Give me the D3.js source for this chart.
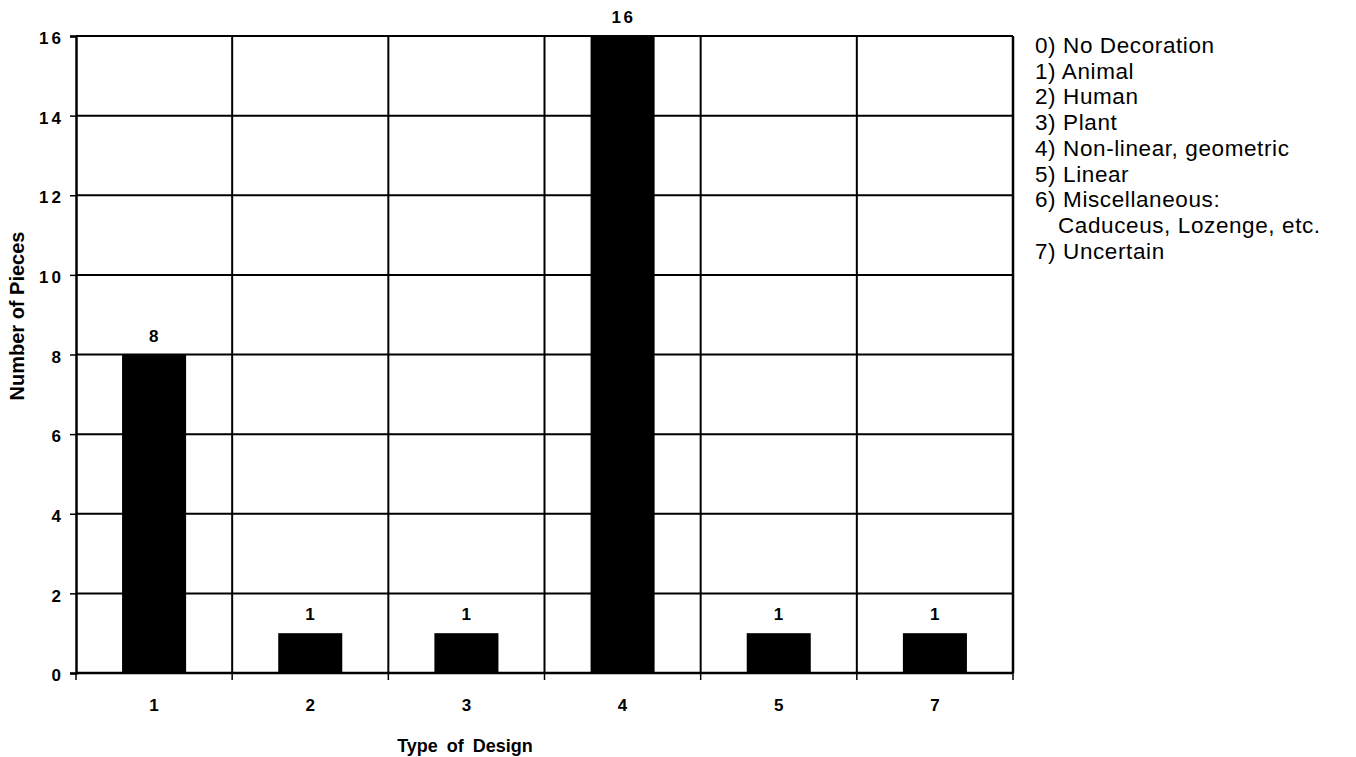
<!DOCTYPE html>
<html>
<head>
<meta charset="utf-8">
<script src="https://cdn.jsdelivr.net/npm/d3@7"></script>
<style>
  body { margin: 0; background: #fff; }
  svg { display: block; font-family: "Liberation Sans", Arial, sans-serif; }
</style>
</head>
<body>
<svg id="chart" width="1356" height="757"></svg>
<script>
// Counts of pieces by type of design
const categories = ["1", "2", "3", "4", "5", "7"];
const pieces = [8, 1, 1, 16, 1, 1];
const yTicks = [0, 2, 4, 6, 8, 10, 12, 14, 16];
const legendLines = [
  "0) No Decoration",
  "1) Animal",
  "2) Human",
  "3) Plant",
  "4) Non-linear, geometric",
  "5) Linear",
  "6) Miscellaneous:",
  "   Caduceus, Lozenge, etc.",
  "7) Uncertain"
];

const svg = d3.select("#chart");
const plotLeft = 76, plotRight = 1013, plotTop = 36, plotBottom = 673;

const x = d3.scaleBand().domain(categories).range([plotLeft, plotRight]).padding(0);
const y = d3.scaleLinear().domain([0, 16]).range([plotBottom, plotTop]);
const barFrac = 0.41;

// horizontal gridlines
svg.append("g").selectAll("line").data(yTicks.filter(d => d > 0)).join("line")
  .attr("x1", plotLeft).attr("x2", plotRight)
  .attr("y1", d => y(d)).attr("y2", d => y(d))
  .attr("stroke", "#000").attr("stroke-width", 2);

// vertical gridlines at category boundaries
const bounds = categories.map(c => x(c)).concat([plotRight]);
svg.append("g").selectAll("line").data(bounds.slice(1)).join("line")
  .attr("x1", d => d).attr("x2", d => d)
  .attr("y1", plotTop).attr("y2", plotBottom)
  .attr("stroke", "#000").attr("stroke-width", 2);

// bars
const bw = x.bandwidth() * barFrac;
svg.append("g").selectAll("rect").data(pieces).join("rect")
  .attr("x", (d, i) => x(categories[i]) + (x.bandwidth() - bw) / 2)
  .attr("width", bw)
  .attr("y", d => y(d))
  .attr("height", d => y(0) - y(d))
  .attr("fill", "#000");

// value labels
svg.append("g").selectAll("text").data(pieces).join("text")
  .attr("x", (d, i) => x(categories[i]) + x.bandwidth() / 2 + 1)
  .attr("y", d => y(d) - 13)
  .attr("text-anchor", "middle")
  .attr("font-size", 17).attr("font-weight", "bold")
  .attr("letter-spacing", 2.5)
  .text(d => d);

// y axis
const yAxis = svg.append("g").attr("transform", `translate(${plotLeft},0)`)
  .call(d3.axisLeft(y).tickValues(yTicks).tickSize(6).tickPadding(6).tickFormat(d3.format("d")));
yAxis.select(".domain").attr("stroke-width", 2.5);
yAxis.selectAll(".tick line").attr("stroke-width", 1.5);
yAxis.selectAll("text").attr("font-size", 17).attr("font-weight", "bold")
  .attr("letter-spacing", 3).attr("fill", "#000").attr("dy", "0.45em")
  .attr("font-family", "Liberation Sans, Arial, sans-serif");

// x axis baseline with ticks at boundaries
svg.append("line").attr("x1", plotLeft).attr("x2", plotRight).attr("y1", plotBottom).attr("y2", plotBottom)
  .attr("stroke", "#000").attr("stroke-width", 2.5);
svg.append("g").selectAll("line").data(bounds).join("line")
  .attr("x1", d => d).attr("x2", d => d).attr("y1", plotBottom).attr("y2", plotBottom + 7)
  .attr("stroke", "#000").attr("stroke-width", 1.5);
svg.append("g").selectAll("text").data(categories).join("text")
  .attr("x", d => x(d) + x.bandwidth() / 2)
  .attr("y", 711)
  .attr("text-anchor", "middle")
  .attr("font-size", 17).attr("font-weight", "bold")
  .text(d => d);

// right border
svg.append("line").attr("x1", plotRight).attr("x2", plotRight).attr("y1", plotTop).attr("y2", plotBottom)
  .attr("stroke", "#000").attr("stroke-width", 2.5);

// axis titles
svg.append("text").attr("x", 465).attr("y", 752).attr("text-anchor", "middle")
  .attr("font-size", 18).attr("font-weight", "bold").attr("word-spacing", 4)
  .text("Type of Design");
svg.append("text").attr("transform", "translate(24,316) rotate(-90)").attr("text-anchor", "middle")
  .attr("font-size", 20).attr("font-weight", "bold")
  .text("Number of Pieces");

// legend
svg.append("g").selectAll("text").data(legendLines).join("text")
  .attr("x", d => d.startsWith("   ") ? 1058 : 1035)
  .attr("y", (d, i) => 53 + i * 25.7)
  .attr("font-size", 22.5)
  .attr("letter-spacing", 0.6)
  .text(d => d.trim());
</script>
</body>
</html>
